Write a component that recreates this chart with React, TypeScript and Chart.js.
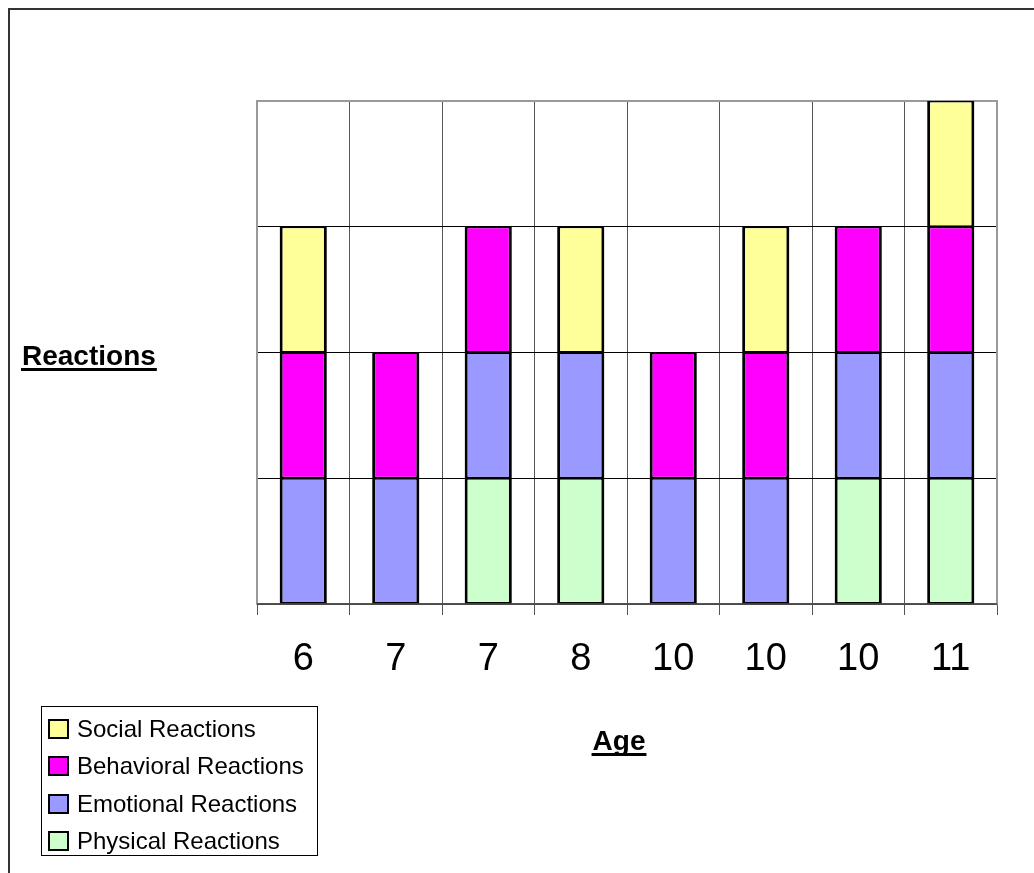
import React, { useEffect, useRef } from "react";
import { Chart, registerables } from "chart.js";

Chart.register(...registerables);

const ages = ["6", "7", "7", "8", "10", "10", "10", "11"];
const physical = [0, 0, 1, 1, 0, 0, 1, 1];
const emotional = [1, 1, 1, 1, 1, 1, 1, 1];
const behavioral = [1, 1, 1, 0, 1, 1, 1, 1];
const social = [1, 0, 0, 1, 0, 1, 0, 1];
const seriesNames = ["Physical Reactions", "Emotional Reactions", "Behavioral Reactions", "Social Reactions"];
const seriesColors = ["#CCFFCC", "#9999FF", "#FF00FF", "#FFFF99"];
const yTitle = "Reactions";
const xTitle = "Age";

const FONT = "'Liberation Sans', Arial, Helvetica, sans-serif";

const decorPlugin = {
  id: "decor",
  beforeDraw(chart: any) {
    const ctx = chart.ctx;
    ctx.save();
    ctx.fillStyle = "#ffffff";
    ctx.fillRect(0, 0, chart.width, chart.height);
    ctx.fillStyle = "#333333";
    ctx.fillRect(8, 8, chart.width - 8, 2);
    ctx.fillRect(8, 8, 2, chart.height - 8);
    ctx.restore();
  },
  beforeDatasetsDraw(chart: any) {
    const ctx = chart.ctx;
    const a = chart.chartArea;
    ctx.save();
    ctx.strokeStyle = "#999999";
    ctx.lineWidth = 2;
    ctx.beginPath();
    ctx.moveTo(a.left, a.bottom);
    ctx.lineTo(a.left, a.top);
    ctx.lineTo(a.right, a.top);
    ctx.lineTo(a.right, a.bottom);
    ctx.stroke();
    ctx.strokeStyle = "#555555";
    ctx.lineWidth = 1.5;
    ctx.beginPath();
    ctx.moveTo(a.left, a.bottom);
    ctx.lineTo(a.right, a.bottom);
    ctx.stroke();
    ctx.restore();
  },
  afterDraw(chart: any) {
    const ctx = chart.ctx;
    ctx.save();
    ctx.fillStyle = "#000000";
    ctx.textBaseline = "alphabetic";
    ctx.font = `bold 28px ${FONT}`;
    ctx.textAlign = "left";
    const yw = ctx.measureText(yTitle).width;
    ctx.fillText(yTitle, 22, 365);
    ctx.fillRect(21, 368, yw + 2, 3);
    ctx.textAlign = "center";
    const xw = ctx.measureText(xTitle).width;
    const cx = 619;
    ctx.fillText(xTitle, cx, 750);
    ctx.fillRect(cx - xw / 2 - 1, 753, xw + 2, 3);
    ctx.strokeStyle = "#000000";
    ctx.lineWidth = 1;
    ctx.strokeRect(41.5, 706.5, 276, 149);
    ctx.font = `24px ${FONT}`;
    ctx.textAlign = "left";
    ctx.textBaseline = "middle";
    const rows = [729, 766, 804, 841];
    for (let i = 0; i < 4; i++) {
      const si = 3 - i;
      const y = rows[i];
      ctx.fillStyle = seriesColors[si];
      ctx.fillRect(48, y - 10, 21, 20);
      ctx.lineWidth = 2;
      ctx.strokeRect(49, y - 9, 19, 18);
      ctx.fillStyle = "#000000";
      ctx.fillText(seriesNames[si], 77, y + 1);
    }
    ctx.restore();
  },
};

export default function App() {
  const ref = useRef<HTMLCanvasElement | null>(null);
  useEffect(() => {
    if (!ref.current) return;
    const values = [physical, emotional, behavioral, social];
    const chart = new Chart(ref.current, {
      type: "bar",
      data: {
        labels: ages,
        datasets: values.map((v, i) => ({
          label: seriesNames[i],
          data: v,
          backgroundColor: seriesColors[i],
          borderColor: "#000000",
          borderWidth: { left: 3, right: 3, top: 1.5, bottom: 1.5 },
          borderSkipped: false,
          barPercentage: 0.51,
          categoryPercentage: 1,
        })),
      },
      options: {
        animation: false,
        responsive: false,
        maintainAspectRatio: false,
        devicePixelRatio: 1,
        layout: { padding: { left: 257, right: 37, top: 101, bottom: 0 } },
        plugins: { legend: { display: false }, tooltip: { enabled: false } },
        scales: {
          x: {
            stacked: true,
            offset: true,
            grid: {
              offset: true,
              color: "#555555",
              lineWidth: 1,
              drawTicks: true,
              tickLength: 11,
              tickColor: "#555555",
            },
            border: { display: true, color: "#555555", width: 1.5 },
            ticks: {
              color: "#000000",
              font: { family: FONT, size: 38 },
              padding: 22,
              maxRotation: 0,
              autoSkip: false,
            },
            afterFit: (scale: any) => {
              scale.height = 269;
            },
          },
          y: {
            stacked: true,
            min: 0,
            max: 4,
            ticks: { display: false, stepSize: 1 },
            grid: { color: "#000000", lineWidth: 1, drawTicks: false },
            border: { display: false },
            afterFit: (scale: any) => {
              scale.width = 0;
            },
          },
        },
      },
      plugins: [decorPlugin],
    });
    return () => chart.destroy();
  }, []);
  return (
    <div style={{ position: "fixed", left: 0, top: 0, width: 1034, height: 873 }}>
      <canvas ref={ref} width={1034} height={873} style={{ width: 1034, height: 873, display: "block" }} />
    </div>
  );
}
